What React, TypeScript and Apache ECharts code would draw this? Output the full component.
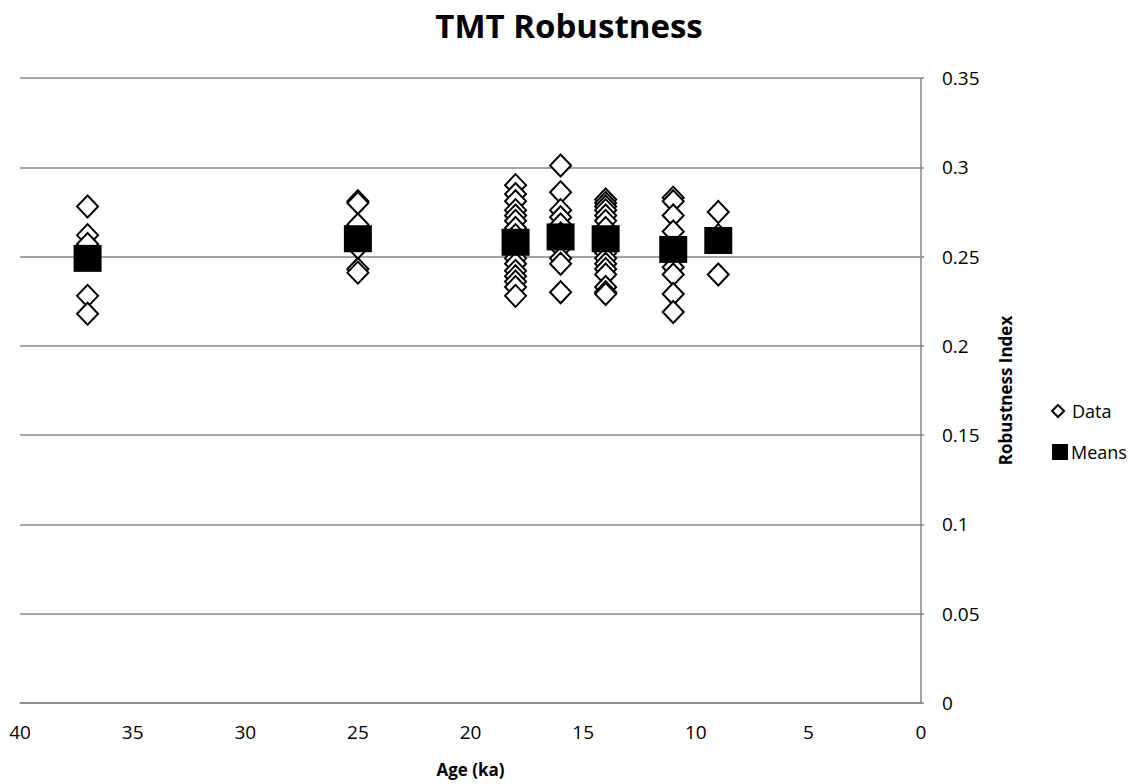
import React, { useEffect, useRef } from "react";
import * as echarts from "echarts";

const ages = [37, 25, 18, 16, 14, 11, 9];
const meanValues = [0.249, 0.26, 0.258, 0.261, 0.26, 0.254, 0.259];

const age37 = [0.278, 0.262, 0.257, 0.228, 0.218];
const age25 = [0.281, 0.28, 0.268, 0.255, 0.243, 0.241];
const age18 = [0.29, 0.285, 0.281, 0.276, 0.273, 0.27, 0.266, 0.262, 0.255, 0.249, 0.246, 0.242, 0.239, 0.236, 0.233, 0.228];
const age16 = [0.301, 0.286, 0.276, 0.272, 0.268, 0.263, 0.255, 0.249, 0.246, 0.23];
const age14 = [0.282, 0.28, 0.278, 0.276, 0.273, 0.27, 0.266, 0.252, 0.249, 0.246, 0.243, 0.24, 0.233, 0.23, 0.229];
const age11 = [0.283, 0.281, 0.273, 0.264, 0.249, 0.244, 0.24, 0.229, 0.219];
const age9 = [0.275, 0.262, 0.24];

const groups = [age37, age25, age18, age16, age14, age11, age9];

const xTicks = [0, 5, 10, 15, 20, 25, 30, 35, 40];
const yTicks = [0, 0.05, 0.1, 0.15, 0.2, 0.25, 0.3, 0.35];

const FONT = "'Open Sans', 'Noto Sans', sans-serif";

export default function App() {
  const ref = useRef<HTMLDivElement>(null);
  useEffect(() => {
    document.body.style.margin = "0";
    if (!ref.current) return;
    const chart = echarts.init(ref.current, undefined, { renderer: "svg" });
    const dataPoints: [number, number][] = [];
    groups.forEach((g, i) => g.forEach((v) => dataPoints.push([ages[i], v])));
    const meanPoints = ages.map((a, i) => [a, meanValues[i]]);
    chart.setOption({
      animation: false,
      backgroundColor: "#ffffff",
      textStyle: { fontFamily: FONT, color: "#000" },
      title: {
        text: "TMT Robustness",
        left: "center",
        top: 4,
        textStyle: { fontFamily: FONT, fontSize: 33, fontWeight: "bold", color: "#000" },
      },
      grid: { left: 20, right: 217, top: 78, bottom: 81, containLabel: false },
      legend: [
        {
          data: ["Data"],
          orient: "vertical",
          left: 1046,
          top: 397,
          itemWidth: 12,
          itemHeight: 12,
          textStyle: { fontFamily: FONT, fontSize: 18, color: "#000", padding: [0, 0, 0, 3] },
        },
        {
          data: ["Means"],
          orient: "vertical",
          left: 1047,
          top: 438,
          itemWidth: 16,
          itemHeight: 16,
          textStyle: { fontFamily: FONT, fontSize: 18, color: "#000", padding: [0, 0, 0, -2] },
        },
      ],
      xAxis: {
        type: "value",
        inverse: true,
        min: xTicks[0],
        max: xTicks[xTicks.length - 1],
        interval: 5,
        name: "Age (ka)",
        nameLocation: "middle",
        nameGap: 58,
        nameTextStyle: { fontFamily: FONT, fontSize: 17, fontWeight: "bold", color: "#000" },
        axisLine: { show: true, lineStyle: { color: "#868686", width: 1.5 } },
        axisTick: { show: false },
        splitLine: { show: false },
        axisLabel: { fontFamily: FONT, fontSize: 19, color: "#000", margin: 19 },
      },
      yAxis: {
        type: "value",
        position: "right",
        min: yTicks[0],
        max: yTicks[yTicks.length - 1],
        interval: 0.05,
        name: "Robustness Index",
        nameLocation: "middle",
        nameRotate: 90,
        nameGap: 76,
        nameTextStyle: { fontFamily: FONT, fontSize: 17, fontWeight: "bold", color: "#000" },
        axisLine: { show: true, lineStyle: { color: "#868686", width: 1.5 } },
        axisTick: { show: true, length: 3, lineStyle: { color: "#868686", width: 1.5 } },
        splitLine: { show: true, lineStyle: { color: "#868686", width: 1.5 } },
        axisLabel: {
          fontFamily: FONT,
          fontSize: 19,
          color: "#000",
          margin: 21,
          formatter: (v: number) => String(Math.round(v * 100) / 100),
        },
      },
      series: [
        {
          name: "Data",
          type: "scatter",
          symbol: "diamond",
          symbolSize: [21, 22],
          data: dataPoints,
          itemStyle: { color: "#ffffff", borderColor: "#000", borderWidth: 2, opacity: 1 },
          z: 2,
        },
        {
          name: "Means",
          type: "scatter",
          symbol: "rect",
          symbolSize: [28, 27],
          data: meanPoints,
          itemStyle: { color: "#000", opacity: 1 },
          z: 3,
        },
      ],
    });
    return () => chart.dispose();
  }, []);
  return <div ref={ref} style={{ width: 1138, height: 784 }} />;
}
